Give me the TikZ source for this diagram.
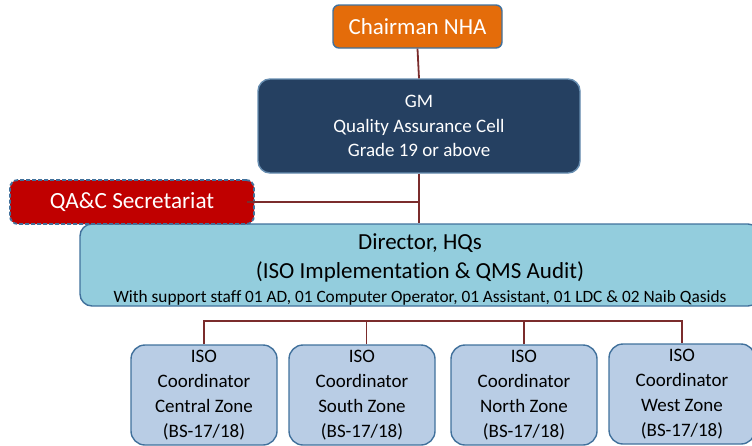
\documentclass[tikz,border=0pt]{standalone}
\usepackage{fontspec}
\setmainfont{Carlito}[Ligatures=NoCommon]
\definecolor{cOrange}{HTML}{E46C0A}
\definecolor{cNavy}{HTML}{254061}
\definecolor{cRed}{HTML}{C00000}
\definecolor{cCyan}{HTML}{93CDDD}
\definecolor{cBlue}{HTML}{B9CDE5}
\definecolor{cEdge}{HTML}{41719C}
\definecolor{cLine}{HTML}{7B2C2C}
\tikzset{
  box/.style={draw=cEdge, line width=1.4pt, inner sep=0pt, align=center, anchor=center},
  link/.style={draw=cLine, line width=1.8pt},
  zone/.style={box, fill=cBlue, rounded corners=14pt, minimum width=146pt, minimum height=100pt,
     font=\fontsize{19}{25}\selectfont},
}
\begin{document}
\begin{tikzpicture}[x=1pt,y=-1pt]
\useasboundingbox (0,0) rectangle (752,445);
\begin{scope}
\clip (0,0) rectangle (752,445);
\node[box, fill=cOrange, rounded corners=6pt, minimum width=169pt, minimum height=43pt, text=white,
  font=\fontsize{23}{28}\selectfont] (ch) at (417.5,26.5) {Chairman NHA};
\node[box, fill=cNavy, draw=cEdge!80!white, rounded corners=12pt, minimum width=322pt, minimum height=94pt, text=white,
  font=\fontsize{19}{24.5}\selectfont] (gm) at (419,126) {GM\\Quality Assurance Cell\\Grade 19 or above};
\node[box, fill=cCyan, rounded corners=12pt, minimum width=680pt, minimum height=82pt,
  font=\fontsize{23}{29}\selectfont] (dir) at (420,265) {};
\node[align=center, inner sep=0pt, font=\fontsize{23}{29}\selectfont] (dirt) at (420,269.5)
  {Director, HQs\\(ISO Implementation \& QMS Audit)\\[-5pt]{\fontsize{17.3}{20}\selectfont With support staff 01 AD, 01 Computer Operator, 01 Assistant, 01 LDC \& 02 Naib Qasids}};
\node[box, fill=cRed, line width=1.8pt, dash pattern=on 4pt off 2pt, rounded corners=8pt, minimum width=244pt, minimum height=44pt, text=white,
  font=\fontsize{23.2}{28}\selectfont] (sec) at (132,202) {QA\&C Secretariat};
\node[zone] (z1) at (204,395) {ISO\\Coordinator\\Central Zone\\(BS-17/18)};
\node[zone] (z2) at (362,395) {ISO\\Coordinator\\South Zone\\(BS-17/18)};
\node[zone] (z3) at (524,395) {ISO\\Coordinator\\North Zone\\(BS-17/18)};
\node[zone] (z4) at (682,394) {ISO\\Coordinator\\West Zone\\(BS-17/18)};
\draw[link] (ch.south) -- (gm.north);
\draw[link] (gm.south) -- (gm.south |- dir.north);
\coordinate (j) at (gm.south |- sec.east);
\draw[link] ([xshift=-8pt]sec.east) -- (j);
\draw[link] (z1.north) -- ++(0,-23.5) coordinate (bl) -| (z4.north);
\draw[link] ([xshift=4.5pt]z2.north) -- ([xshift=4.5pt]z2.north |- bl);
\draw[link] (z3.north) -- (z3.north |- bl);
\end{scope}
\end{tikzpicture}
\end{document}
